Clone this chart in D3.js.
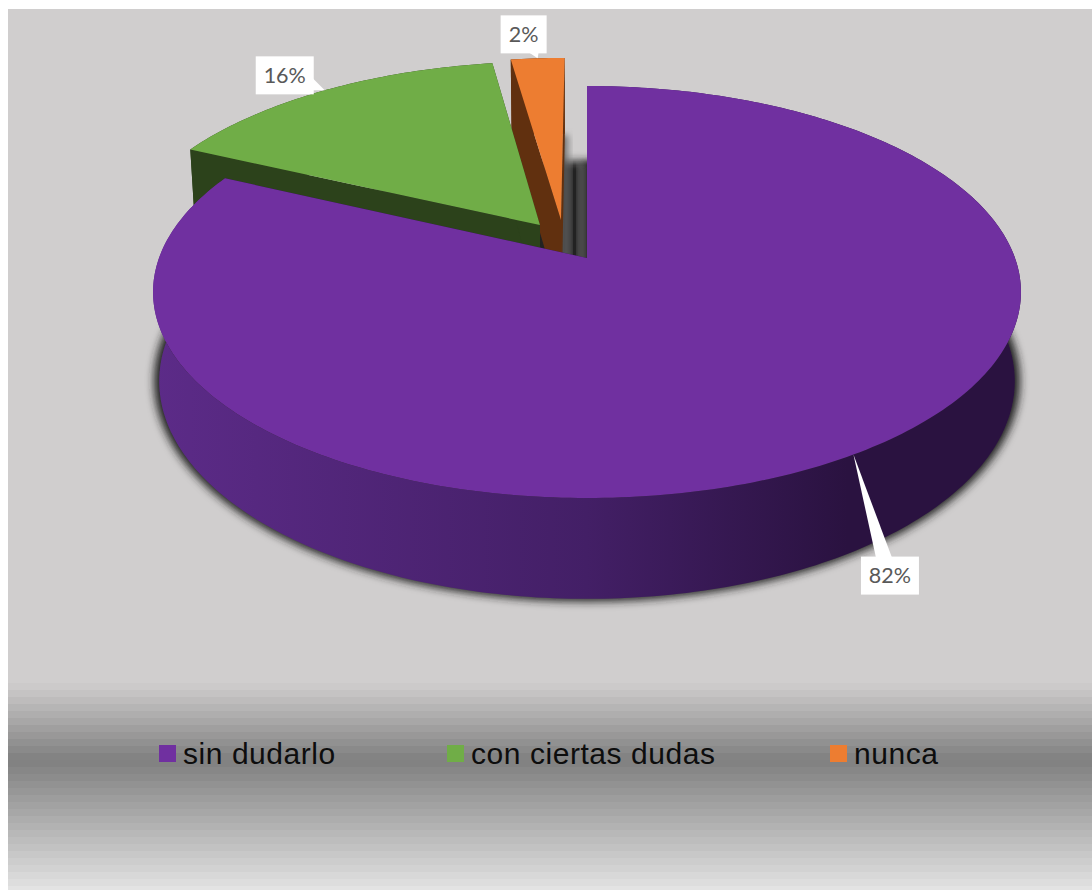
<!DOCTYPE html>
<html><head><meta charset="utf-8">
<script src="https://cdn.jsdelivr.net/npm/d3@7/dist/d3.min.js"></script>
<style>html,body{margin:0;padding:0;background:#fff}svg{display:block}</style>
</head><body><svg id="c" width="1092" height="890"></svg>
<script>
const categories = ["sin dudarlo", "con ciertas dudas", "nunca"];
const values = [82, 15.6, 2.4];
const colors = ["#7030a0", "#70ad47", "#ed7d31"];
const sideColors = ["#2b1340", "#2c421b", "#61300f"];

const W = 1092, H = 890;
const svg = d3.select("#c");
const defs = svg.append("defs");

// perspective model of the 3D pie
const cam = {cx: 587, cy: 258, R: 428, S: 200.4, k: 0.165, b: 89, c: 0.014};
const explode = [[0, 0], [-0.113, -0.169], [-0.0627, -0.195]];
function project(u, v, z) {
  const w = 1 - cam.k * v + cam.c * z;
  return [cam.cx + cam.R * u / w, cam.cy + (cam.S * v + cam.b * z) / w];
}
const slices = d3.pie().sort(null)(values).map((d, i) => ({...d, i}));
function rim(s, a, z) {
  const [ox, oy] = explode[s.i];
  return project(Math.sin(a) + ox, -Math.cos(a) + oy, z);
}
function apex(s, z) {
  const [ox, oy] = explode[s.i];
  return project(ox, oy, z);
}
function arcPts(s, a0, a1, z) {
  const n = Math.max(4, Math.ceil(Math.abs(a1 - a0) * 60));
  return d3.range(n + 1).map(j => rim(s, a0 + (a1 - a0) * j / n, z));
}
const line = d3.line().curve(d3.curveLinear);
const closed = pts => line(pts) + "Z";

// background
svg.append("rect").attr("x", 8).attr("y", 9).attr("width", W - 8).attr("height", H - 9).attr("fill", "#d0cece");
const bandColor = d3.scaleLinear().domain([683, 760, 890]).range(["#d0cece", "#7f7f7f", "#e3e3e3"]);
d3.range(683, 890, 7).forEach(y => {
  svg.append("rect").attr("x", 8).attr("y", y).attr("width", W - 8).attr("height", 7.5)
    .attr("fill", bandColor(y + 3.5));
});

// defs
const blur = defs.append("filter").attr("id", "blur").attr("x", "-10%").attr("y", "-10%").attr("width", "120%").attr("height", "120%");
blur.append("feGaussianBlur").attr("stdDeviation", 4);
const blurY = defs.append("filter").attr("id", "blurY").attr("x", "-20%").attr("y", "-20%").attr("width", "140%").attr("height", "140%");
blurY.append("feGaussianBlur").attr("stdDeviation", "0 3");

const wallG = defs.append("linearGradient").attr("id", "wall").attr("gradientUnits", "userSpaceOnUse")
  .attr("x1", 153).attr("x2", 1021).attr("y1", 0).attr("y2", 0);
[[0, "#5c2b88"], [0.5, "#431f66"], [0.8, "#2a1240"], [1, "#2a1240"]].forEach(([o, c]) =>
  wallG.append("stop").attr("offset", o).attr("stop-color", c));
const gL = defs.append("linearGradient").attr("id", "gapL");
gL.append("stop").attr("offset", 0).attr("stop-color", "#444").attr("stop-opacity", 1);
gL.append("stop").attr("offset", 1).attr("stop-color", "#999").attr("stop-opacity", 0.15);
const gR = defs.append("linearGradient").attr("id", "gapR");
gR.append("stop").attr("offset", 0).attr("stop-color", "#999").attr("stop-opacity", 0.15);
gR.append("stop").attr("offset", 1).attr("stop-color", "#333").attr("stop-opacity", 1);

const [purple, green, orange] = slices;
const pie = svg.append("g");

// outer shadow of the pie body
const body = arcPts(purple, 0, 2 * Math.PI, 1);
pie.append("path").attr("d", closed(body)).attr("fill", "#222").attr("filter", "url(#blur)")
  .attr("transform", "translate(587,385) scale(1.012) translate(-587,-385)");

// gap shadows between orange and purple
const oEdge = apex(orange, 0)[0], pEdge = apex(purple, 0)[0];
pie.append("rect").attr("x", oEdge).attr("y", 135).attr("width", 12).attr("height", 130)
  .attr("fill", "url(#gapL)").attr("filter", "url(#blurY)");
pie.append("rect").attr("x", pEdge - 11).attr("y", 163).attr("width", 11).attr("height", 100)
  .attr("fill", "url(#gapR)").attr("filter", "url(#blurY)");

function drawSlice(s, wallFill) {
  const g = pie.append("g");
  const a0 = s.startAngle, a1 = s.endAngle;
  // outer wall
  g.append("path").attr("d", closed(arcPts(s, a0, a1, 0).concat(arcPts(s, a1, a0, 1))))
    .attr("fill", wallFill);
  // cut faces
  [a0, a1].forEach(a => {
    g.append("path").attr("d", closed([apex(s, 0), rim(s, a, 0), rim(s, a, 1), apex(s, 1)]))
      .attr("fill", sideColors[s.i]);
  });
  // top
  g.append("path").attr("d", closed([apex(s, 0)].concat(arcPts(s, a0, a1, 0))))
    .attr("fill", colors[s.i]);
}
drawSlice(orange, sideColors[2]);
drawSlice(green, sideColors[1]);
drawSlice(purple, "url(#wall)");

// data labels
const pct = d3.format(".0%");
const total = d3.sum(values);
const labelSpec = [
  {dx: 7.5, dy: 102, w: 58, h: 38, base: "top", b0: 15, b1: 31},
  {dx: -69, dy: -34, w: 58, h: 38, base: "right", b0: 22, b1: 34},
  {dx: -37, dy: -43, w: 46, h: 38, base: "bottom", b0: 28, b1: 38}
];
slices.forEach(s => {
  const tip = rim(s, (s.startAngle + s.endAngle) / 2, 0);
  const L = labelSpec[s.i];
  const x = tip[0] + L.dx, y = tip[1] + L.dy;
  let tri;
  if (L.base === "top") tri = [[x + L.b0, y + 1], [x + L.b1, y + 1], tip];
  if (L.base === "right") tri = [[x + L.w - 1, y + L.b0], [x + L.w - 1, y + L.b1], tip];
  if (L.base === "bottom") tri = [[x + L.b0, y + L.h - 1], [x + L.b1, y + L.h - 1], tip];
  svg.append("path").attr("d", closed(tri)).attr("fill", "#fff");
  svg.append("rect").attr("x", x).attr("y", y).attr("width", L.w).attr("height", L.h).attr("fill", "#fff");
  svg.append("text").attr("x", x + L.w / 2).attr("y", y + L.h / 2 + 7.5)
    .attr("text-anchor", "middle").attr("font-family", "Lato, 'Open Sans', sans-serif")
    .attr("font-size", 21.5).attr("fill", "#595959").text(pct(s.value / total));
});

// legend
const legendX = d3.scaleOrdinal().domain(categories).range([159, 447, 830]);
const lg = svg.append("g");
categories.forEach((c, i) => {
  lg.append("rect").attr("x", legendX(c)).attr("y", 745).attr("width", 17).attr("height", 17).attr("fill", colors[i]);
  lg.append("text").attr("x", legendX(c) + 24).attr("y", 764)
    .attr("font-family", "'Liberation Sans', Arial, sans-serif").attr("font-size", 30)
    .attr("letter-spacing", 0.55).attr("fill", "#0d0d0d").text(c);
});
</script></body></html>
